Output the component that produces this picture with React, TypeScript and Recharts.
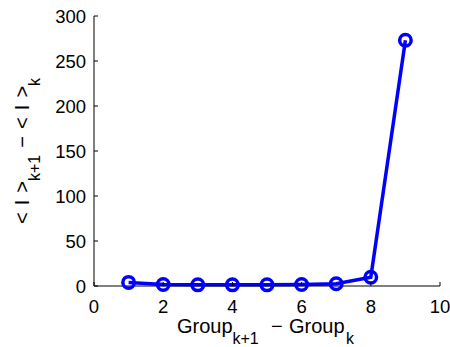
import React from 'react';
import { LineChart, Line, XAxis, YAxis } from 'recharts';

const groups = [1, 2, 3, 4, 5, 6, 7, 8, 9];
const diffs = [4, 1.6, 1.3, 1.3, 1.3, 1.6, 2.5, 9.7, 273];
const xTicks = [0, 2, 4, 6, 8, 10];
const yTicks = [0, 50, 100, 150, 200, 250, 300];

const data = groups.map((g, i) => ({ g, v: diffs[i] }));

const FONT = '"Liberation Sans", Arial, Helvetica, sans-serif';
const BLUE = '#0000ff';
const TL = 4;
const TICK_FS = 18.5;
const LAB_FS = 20;
const SUB_FS = 16;

const BottomTick = (p: any) => (
  <g>
    <line x1={p.x} y1={p.y} x2={p.x} y2={p.y - TL} stroke="#000" strokeWidth={1} />
    <text x={p.x} y={p.y + 26.5} textAnchor="middle" fontSize={TICK_FS} fontFamily={FONT} fill="#000">
      {p.payload.value}
    </text>
  </g>
);
const TopTick = (p: any) => (
  <line x1={p.x} y1={p.y} x2={p.x} y2={p.y + TL} stroke="#000" strokeWidth={1} />
);
const LeftTick = (p: any) => (
  <g>
    <line x1={p.x} y1={p.y} x2={p.x + TL} y2={p.y} stroke="#000" strokeWidth={1} />
    <text x={p.x - 8} y={p.y + 6.5} textAnchor="end" fontSize={TICK_FS} fontFamily={FONT} fill="#000">
      {p.payload.value}
    </text>
  </g>
);
const RightTick = (p: any) => (
  <line x1={p.x} y1={p.y} x2={p.x - TL} y2={p.y} stroke="#000" strokeWidth={1} />
);

const XLabel = () => (
  <text y={333} fontSize={LAB_FS} fontFamily={FONT} fill="#000">
    <tspan x={177}>Group</tspan>
    <tspan x={232.5} fontSize={SUB_FS} dy={11}>k+1</tspan>
    <tspan x={271} dy={-11}>−</tspan>
    <tspan x={289}>Group</tspan>
    <tspan x={346} fontSize={SUB_FS} dy={11}>k</tspan>
  </text>
);

const YLabel = () => (
  <text
    transform="rotate(-90)"
    x={-151}
    y={29}
    textAnchor="middle"
    fontSize={LAB_FS}
    fontFamily={FONT}
    fill="#000"
    style={{ whiteSpace: 'pre', wordSpacing: 1.5 }}
  >
    <tspan>{'< I >'}</tspan>
    <tspan fontSize={SUB_FS} dy={11}>k+1</tspan>
    <tspan dy={-11}>{' − < I >'}</tspan>
    <tspan fontSize={SUB_FS} dy={11}>k</tspan>
  </text>
);

export default function App() {
  return (
    <div style={{ position: 'absolute', left: 0, top: 0, width: 450, height: 347, background: '#fff' }}>
      <LineChart width={450} height={347} data={data} margin={{ top: 16, right: 10, left: 0, bottom: 0 }}>
        <XAxis
          dataKey="g"
          type="number"
          domain={[0, 10]}
          ticks={xTicks}
          height={61}
          tickSize={0}
          tickMargin={0}
          tickLine={false}
          tick={<BottomTick />}
          axisLine={{ stroke: '#000' }}
          interval={0}
          label={<XLabel />}
        />
        <XAxis
          xAxisId="top"
          orientation="top"
          dataKey="g"
          type="number"
          domain={[0, 10]}
          ticks={xTicks}
          height={0}
          tickSize={0}
          tickMargin={0}
          tickLine={false}
          tick={<TopTick />}
          axisLine={{ stroke: '#000' }}
          interval={0}
        />
        <YAxis
          type="number"
          domain={[0, 300]}
          ticks={yTicks}
          width={94}
          tickSize={0}
          tickMargin={0}
          tickLine={false}
          tick={<LeftTick />}
          axisLine={{ stroke: '#000' }}
          interval={0}
          label={<YLabel />}
        />
        <YAxis
          yAxisId="right"
          orientation="right"
          type="number"
          domain={[0, 300]}
          ticks={yTicks}
          width={0}
          tickSize={0}
          tickMargin={0}
          tickLine={false}
          tick={<RightTick />}
          axisLine={{ stroke: '#000' }}
          interval={0}
        />
        <Line
          dataKey="v"
          stroke={BLUE}
          strokeWidth={3.5}
          dot={{ r: 5.75, stroke: BLUE, strokeWidth: 3.5, fill: 'none' }}
          isAnimationActive={false}
        />
      </LineChart>
    </div>
  );
}
